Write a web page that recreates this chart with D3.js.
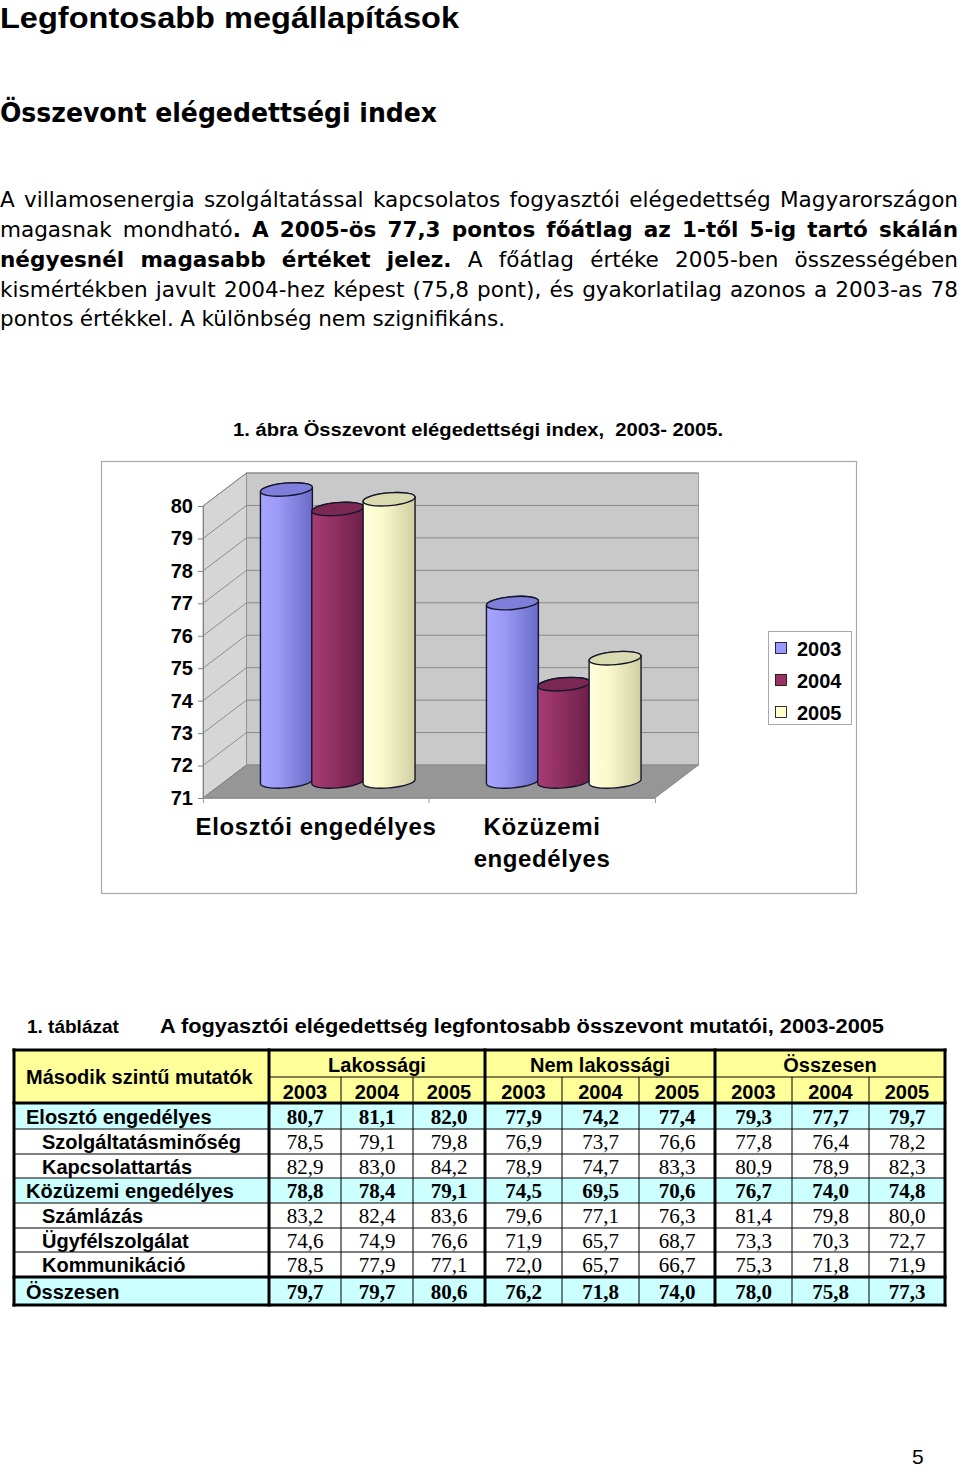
<!DOCTYPE html>
<html>
<head>
<meta charset="utf-8">
<script src="https://cdn.jsdelivr.net/npm/d3@7"></script>
<style>
html,body{margin:0;padding:0;background:#fff;}
svg{display:block;}
</style>
</head>
<body>
<script>
// ---------------- DATA ----------------
const categories = ["Elosztói engedélyes", "Közüzemi engedélyes"];
const categoryLabelLines = [["Elosztói engedélyes"], ["Közüzemi", "engedélyes"]];
const seriesNames = ["2003", "2004", "2005"];
const values2003 = [80.0, 76.5];
const values2004 = [79.4, 74.0];
const values2005 = [79.7, 74.8];
const yTicks = [71, 72, 73, 74, 75, 76, 77, 78, 79, 80];

const tableGroups = ["Lakossági", "Nem lakossági", "Összesen"];
const tableYears = ["2003", "2004", "2005"];
const rowLabels = ["Elosztó engedélyes", "Szolgáltatásminőség", "Kapcsolattartás", "Közüzemi engedélyes",
  "Számlázás", "Ügyfélszolgálat", "Kommunikáció", "Összesen"];
const rowLevel = [0, 1, 1, 0, 1, 1, 1, 0];
const lakossagi = [[80.7, 81.1, 82.0], [78.5, 79.1, 79.8], [82.9, 83.0, 84.2], [78.8, 78.4, 79.1],
  [83.2, 82.4, 83.6], [74.6, 74.9, 76.6], [78.5, 77.9, 77.1], [79.7, 79.7, 80.6]];
const nemLakossagi = [[77.9, 74.2, 77.4], [76.9, 73.7, 76.6], [78.9, 74.7, 83.3], [74.5, 69.5, 70.6],
  [79.6, 77.1, 76.3], [71.9, 65.7, 68.7], [72.0, 65.7, 66.7], [76.2, 71.8, 74.0]];
const osszesen = [[79.3, 77.7, 79.7], [77.8, 76.4, 78.2], [80.9, 78.9, 82.3], [76.7, 74.0, 74.8],
  [81.4, 79.8, 80.0], [73.3, 70.3, 72.7], [75.3, 71.8, 71.9], [78.0, 75.8, 77.3]];

const paragraphLines = [
  [["A villamosenergia szolgáltatással kapcsolatos fogyasztói elégedettség Magyarországon", 0]],
  [["magasnak mondható", 0], [". A 2005-ös 77,3 pontos főátlag az 1-től 5-ig tartó skálán", 1]],
  [["négyesnél magasabb értéket jelez.", 1], [" A főátlag értéke 2005-ben összességében", 0]],
  [["kismértékben javult 2004-hez képest (75,8 pont), és gyakorlatilag azonos a 2003-as 78", 0]],
  [["pontos értékkel. A különbség nem szignifikáns.", 0]]
];

// ---------------- STYLE ----------------
const ARIAL = "'Liberation Sans', Arial, Helvetica, sans-serif";
const TAHOMA = "'DejaVu Sans Condensed', 'DejaVu Sans', Verdana, sans-serif";
const TIMES = "'Liberation Serif', 'Times New Roman', serif";
const seriesFill = ["#9999FF", "#993366", "#FFFFCC"];
const bodyStops = [
  ["#a6a6ff", "#9a9af6", "#6a6ac8"],
  ["#a63c76", "#953265", "#6c1f48"],
  ["#ffffdf", "#fafacb", "#cfcfa3"]
];
const topFill = ["#7e7edb", "#7b2954", "#dadab0"];

const W = 960, H = 1469;
const svg = d3.select("body").append("svg").attr("width", W).attr("height", H);
svg.append("rect").attr("width", W).attr("height", H).attr("fill", "#fff");
const defs = svg.append("defs");

// ---------------- HEADINGS ----------------
svg.append("text").attr("x", 0).attr("y", 27.5)
  .attr("font-family", ARIAL).attr("font-weight", "bold").attr("font-size", 30)
  .attr("textLength", 459).attr("lengthAdjust", "spacingAndGlyphs")
  .text("Legfontosabb megállapítások");
svg.append("text").attr("x", 0).attr("y", 122)
  .attr("font-family", TAHOMA).attr("font-weight", "bold").attr("font-size", 27)
  .attr("textLength", 437).attr("lengthAdjust", "spacingAndGlyphs")
  .text("Összevont elégedettségi index");

// ---------------- PARAGRAPH (justified) ----------------
(function () {
  const baselines = [207, 237, 267, 297, 326];
  const widths = [958, 958, 958, 958, 505];
  const fs = 22;
  const g = svg.append("g").attr("font-family", TAHOMA).attr("fill", "#000").attr("font-size", fs);
  const lines = paragraphLines.map((segs, li) => {
    const words = [];
    let cur = null;
    segs.forEach(([txt, bold]) => {
      txt.split(" ").forEach((p, i) => {
        if (i > 0 || cur === null) { cur = []; words.push(cur); }
        if (p) cur.push([p, bold]);
      });
    });
    const ws = words.filter(w => w.length);
    const nodes = ws.map(w => {
      const t = g.append("text").attr("y", baselines[li]);
      w.forEach(([p, b]) => t.append("tspan").attr("font-weight", b ? "bold" : "normal").text(p));
      return t;
    });
    const wid = nodes.map(n => n.node().getComputedTextLength());
    return { nodes, wid, W: widths[li] };
  });
  // horizontal scale so that the last (unjustified) line has normal word spacing
  const last = lines[lines.length - 1];
  let s = (last.W - (last.nodes.length - 1) * 6.5) / d3.sum(last.wid);
  lines.slice(0, -1).forEach(L => {
    s = Math.min(s, (L.W - (L.nodes.length - 1) * 5) / d3.sum(L.wid));
  });
  lines.forEach(L => {
    const wid = L.wid.map(w => w * s);
    const gap = (L.W - d3.sum(wid)) / (L.nodes.length - 1);
    let x = 0;
    L.nodes.forEach((n, i) => {
      n.attr("x", x).attr("textLength", wid[i]).attr("lengthAdjust", "spacingAndGlyphs");
      x += wid[i] + gap;
    });
  });
})();

// ---------------- CHART ----------------
svg.append("text").attr("x", 478).attr("y", 436).attr("text-anchor", "middle")
  .attr("font-family", ARIAL).attr("font-weight", "bold").attr("font-size", 18)
  .attr("textLength", 490).attr("lengthAdjust", "spacingAndGlyphs")
  .style("white-space", "pre")
  .text("1. ábra Összevont elégedettségi index,  2003- 2005.");

svg.append("rect").attr("x", 101.5).attr("y", 461.5).attr("width", 755).attr("height", 432)
  .attr("fill", "#fff").attr("stroke", "#a8a8a8").attr("stroke-width", 1.2);

const y = d3.scaleLinear().domain([71, 80]).range([798, 506]);
const x = d3.scaleBand().domain(categories).range([203, 655]);
const xs = d3.scaleBand().domain(seriesNames).range([-77, 77]);
const DX = 43.5, DY = -33;
const x0 = x.range()[0], x1 = x.range()[1];
const yMin = y.domain()[0], yMax = y.domain()[1];

const chart = svg.append("g");
// left side wall
chart.append("path")
  .attr("d", d3.line()([[x0, y(yMax)], [x0 + DX, y(yMax) + DY], [x0 + DX, y(yMin) + DY], [x0, y(yMin)]]) + "Z")
  .attr("fill", "#d6d6d6").attr("stroke", "#8a8a8a").attr("stroke-width", 0.8);
// back wall
chart.append("rect").attr("x", x0 + DX).attr("y", y(yMax) + DY)
  .attr("width", x1 - x0).attr("height", y(yMin) - y(yMax))
  .attr("fill", "#c9c9c9").attr("stroke", "#8a8a8a").attr("stroke-width", 0.8);
// gridlines
yTicks.forEach(v => {
  chart.append("line").attr("x1", x0).attr("y1", y(v)).attr("x2", x0 + DX).attr("y2", y(v) + DY)
    .attr("stroke", "#7a7a7a").attr("stroke-width", 0.8);
  if (v > yMin) {
    chart.append("line").attr("x1", x0 + DX).attr("y1", y(v) + DY).attr("x2", x1 + DX).attr("y2", y(v) + DY)
      .attr("stroke", "#7a7a7a").attr("stroke-width", 0.8);
  }
});
// floor
chart.append("path")
  .attr("d", d3.line()([[x0, y(yMin)], [x1, y(yMin)], [x1 + DX, y(yMin) + DY], [x0 + DX, y(yMin) + DY]]) + "Z")
  .attr("fill", "#969696").attr("stroke", "#808080").attr("stroke-width", 0.8);

// axes
const yAxis = chart.append("g").attr("transform", `translate(${x0},0)`)
  .call(d3.axisLeft(y).tickValues(yTicks).tickFormat(d3.format("d")).tickSize(5).tickPadding(5).tickSizeOuter(0));
yAxis.select(".domain").attr("stroke", "#808080");
yAxis.selectAll(".tick line").attr("stroke", "#808080");
yAxis.selectAll(".tick text").attr("font-family", ARIAL).attr("font-weight", "bold")
  .attr("font-size", 20).attr("fill", "#000");

const xAxis = chart.append("g").attr("transform", `translate(0,${y(yMin)})`)
  .call(d3.axisBottom(x).tickSize(0).tickSizeOuter(5).tickFormat(""));
xAxis.select(".domain").attr("stroke", "#9a9a9a");
chart.append("line").attr("x1", x(categories[1])).attr("x2", x(categories[1]))
  .attr("y1", y(yMin)).attr("y2", y(yMin) + 5).attr("stroke", "#9a9a9a");

// category labels
categories.forEach((c, j) => {
  const t = chart.append("text").attr("text-anchor", "middle")
    .attr("font-family", ARIAL).attr("font-weight", "bold").attr("font-size", 24)
    .attr("letter-spacing", 0.6).attr("fill", "#000");
  categoryLabelLines[j].forEach((ln, k) => {
    t.append("tspan").attr("x", x(c) + x.bandwidth() / 2).attr("y", 835 + k * 32).text(ln);
  });
});

// gradients
seriesNames.forEach((s, i) => {
  const lg = defs.append("linearGradient").attr("id", "cyl" + i)
    .attr("x1", "0").attr("x2", "1").attr("y1", "0").attr("y2", "0");
  lg.append("stop").attr("offset", "0").attr("stop-color", bodyStops[i][0]);
  lg.append("stop").attr("offset", "0.35").attr("stop-color", bodyStops[i][1]);
  lg.append("stop").attr("offset", "1").attr("stop-color", bodyStops[i][2]);
});

// cylinders
const seriesValues = [values2003, values2004, values2005];
const ANG = 5 * Math.PI / 180;
const RY = 6.4;
const bars = chart.append("g");
seriesNames.forEach((s, i) => {
  categories.forEach((c, j) => {
    const v = seriesValues[i][j];
    const cx = x(c) + x.bandwidth() / 2 + xs(s) + xs.bandwidth() / 2 + DX / 2;
    const yt = y(v) + DY / 2;
    const yb = y(yMin) + DY / 2;
    const r = xs.bandwidth() / 2 + 0.4;
    const co = Math.cos(ANG), si = Math.sin(ANG);
    const deg = -ANG * 180 / Math.PI;
    const Lt = [cx - r * co, yt + r * si], Rt = [cx + r * co, yt - r * si];
    const Lb = [cx - r * co, yb + r * si], Rb = [cx + r * co, yb - r * si];
    const d = `M${Lt} L${Lb} A${r},${RY} ${deg} 0 0 ${Rb} L${Rt} A${r},${RY} ${deg} 0 0 ${Lt} Z`;
    bars.append("path").attr("d", d).attr("fill", `url(#cyl${i})`)
      .attr("stroke", "#15152a").attr("stroke-width", 1.4).attr("stroke-linejoin", "round");
    bars.append("ellipse").attr("cx", cx).attr("cy", yt).attr("rx", r).attr("ry", RY)
      .attr("transform", `rotate(${deg},${cx},${yt})`)
      .attr("fill", topFill[i]).attr("stroke", "#15152a").attr("stroke-width", 1.4);
  });
});

// legend
const lg = svg.append("g");
lg.append("rect").attr("x", 768.5).attr("y", 631.5).attr("width", 83).attr("height", 93)
  .attr("fill", "#fff").attr("stroke", "#a8a8a8");
seriesNames.forEach((s, i) => {
  const cy = 648 + i * 32;
  lg.append("rect").attr("x", 775.5).attr("y", cy - 5.5).attr("width", 11).attr("height", 11)
    .attr("fill", seriesFill[i]).attr("stroke", "#000").attr("stroke-width", 0.8);
  lg.append("text").attr("x", 797).attr("y", cy + 7.5)
    .attr("font-family", ARIAL).attr("font-weight", "bold").attr("font-size", 20).text(s);
});

// ---------------- TABLE ----------------
svg.append("text").attr("x", 27).attr("y", 1033)
  .attr("font-family", ARIAL).attr("font-weight", "bold").attr("font-size", 19).text("1. táblázat");
svg.append("text").attr("x", 160).attr("y", 1033)
  .attr("font-family", ARIAL).attr("font-weight", "bold").attr("font-size", 20)
  .attr("textLength", 724).attr("lengthAdjust", "spacingAndGlyphs")
  .text("A fogyasztói elégedettség legfontosabb összevont mutatói, 2003-2005");

const colEdges = [14, 269, 341, 413, 485, 562, 639, 715, 792, 869, 945];
const rowEdges = [1050, 1077, 1103, 1129, 1154, 1178, 1203, 1228, 1252, 1277, 1305];
const tg = svg.append("g");
const fmt = v => d3.format(".1f")(v).replace(".", ",");
const groupData = [lakossagi, nemLakossagi, osszesen];

// fills
tg.append("rect").attr("x", colEdges[0]).attr("y", rowEdges[0])
  .attr("width", colEdges[10] - colEdges[0]).attr("height", rowEdges[2] - rowEdges[0]).attr("fill", "#FFFF99");
rowLabels.forEach((lab, r) => {
  tg.append("rect").attr("x", colEdges[0]).attr("y", rowEdges[r + 2])
    .attr("width", colEdges[10] - colEdges[0]).attr("height", rowEdges[r + 3] - rowEdges[r + 2])
    .attr("fill", rowLevel[r] === 0 ? "#CCFFFF" : "#FFFFFF");
});

// lines
const thin = (x1, y1, x2, y2) => tg.append("line").attr("x1", x1).attr("y1", y1).attr("x2", x2).attr("y2", y2)
  .attr("stroke", "#000").attr("stroke-width", 1);
const thick = (x1, y1, x2, y2) => tg.append("line").attr("x1", x1).attr("y1", y1).attr("x2", x2).attr("y2", y2)
  .attr("stroke", "#000").attr("stroke-width", 3).attr("stroke-linecap", "square");
thin(colEdges[1], rowEdges[1], colEdges[10], rowEdges[1]);
for (let r = 3; r < rowEdges.length - 1; r++) if (r !== 9) thin(colEdges[0], rowEdges[r], colEdges[10], rowEdges[r]);
[2, 3, 5, 6, 8, 9].forEach(c => thin(colEdges[c], rowEdges[1], colEdges[c], rowEdges[10]));
thick(colEdges[0], rowEdges[0], colEdges[10], rowEdges[0]);
thick(colEdges[0], rowEdges[10], colEdges[10], rowEdges[10]);
thick(colEdges[0], rowEdges[2], colEdges[10], rowEdges[2]);
thick(colEdges[0], rowEdges[9], colEdges[10], rowEdges[9]);
[0, 1, 4, 7, 10].forEach(c => thick(colEdges[c], rowEdges[0], colEdges[c], rowEdges[10]));

// header text
tg.append("text").attr("x", 26).attr("y", 1084)
  .attr("font-family", ARIAL).attr("font-weight", "bold").attr("font-size", 20).text("Második szintű mutatók");
tableGroups.forEach((gname, gi) => {
  const a = colEdges[1 + gi * 3], b = colEdges[4 + gi * 3];
  tg.append("text").attr("x", (a + b) / 2).attr("y", 1072).attr("text-anchor", "middle")
    .attr("font-family", ARIAL).attr("font-weight", "bold").attr("font-size", 20).text(gname);
  tableYears.forEach((yr, k) => {
    const ca = colEdges[1 + gi * 3 + k], cb = colEdges[2 + gi * 3 + k];
    tg.append("text").attr("x", (ca + cb) / 2).attr("y", 1099).attr("text-anchor", "middle")
      .attr("font-family", ARIAL).attr("font-weight", "bold").attr("font-size", 20).text(yr);
  });
});
// body text
rowLabels.forEach((lab, r) => {
  const yb = (rowEdges[r + 2] + rowEdges[r + 3]) / 2 + 7.5;
  tg.append("text").attr("x", rowLevel[r] === 0 ? 26 : 42).attr("y", yb)
    .attr("font-family", ARIAL).attr("font-weight", "bold").attr("font-size", 20).text(lab);
  groupData.forEach((gd, gi) => {
    gd[r].forEach((v, k) => {
      const ca = colEdges[1 + gi * 3 + k], cb = colEdges[2 + gi * 3 + k];
      tg.append("text").attr("x", (ca + cb) / 2).attr("y", yb).attr("text-anchor", "middle")
        .attr("font-family", TIMES).attr("font-weight", rowLevel[r] === 0 ? "bold" : "normal")
        .attr("font-size", 21).text(fmt(v));
    });
  });
});

// page number
svg.append("text").attr("x", 912).attr("y", 1463.5)
  .attr("font-family", ARIAL).attr("font-size", 21).text("5");
</script>
</body>
</html>
